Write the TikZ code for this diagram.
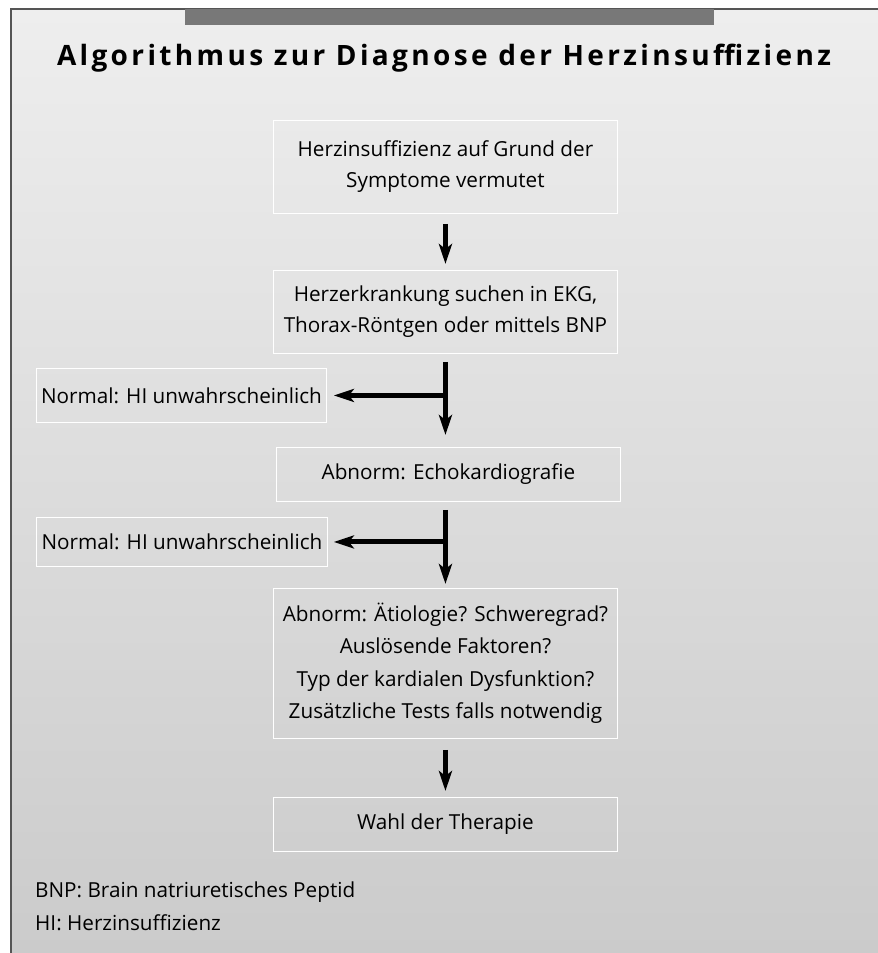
\documentclass[tikz,border=0pt]{standalone}
\usepackage{fontspec}
\setmainfont{Open Sans}
\usetikzlibrary{arrows.meta}
\definecolor{bgtop}{HTML}{EEEEEE}
\definecolor{bgbot}{HTML}{CBCBCB}
\definecolor{barc}{HTML}{787878}
\definecolor{framec}{HTML}{555555}
\tikzset{
  box/.style={draw=white, line width=0.9pt, anchor=north west, inner sep=0pt,
    align=center, font=\fontsize{20.7}{31}\selectfont, text=black},
  arr/.style={line width=5pt, -{Stealth[length=20pt, width=13pt, inset=5pt]}},
  note/.style={anchor=west, inner sep=0pt, font=\fontsize{20.7}{24}\selectfont}
}
\begin{document}
\begin{tikzpicture}[x=1pt,y=1pt]
\useasboundingbox (0,0) rectangle (878,-953);
\fill[white] (0,0) rectangle (878,-953);
\shade[top color=bgtop, bottom color=bgbot] (11,-9) rectangle (878,-953);
\draw[framec, line width=1.2pt] (11,-953) -- (11,-9) -- (878,-9);
\fill[barc] (185,-9) rectangle (714,-25);
\node[font=\fontsize{28}{32}\selectfont\bfseries\addfontfeatures{LetterSpace=12}] (title) at (444,-58) {Algorithmus zur Diagnose der Herzinsuffizienz};

\node[box, minimum width=344pt, minimum height=93pt] (b1) at (273,-120) {Herzinsuffizienz auf Grund der\\Symptome vermutet};
\node[box, minimum width=344pt, minimum height=83pt] (b2) at (273,-270) {Herzerkrankung suchen in EKG,\\Thorax-Röntgen oder mittels BNP};
\node[box, minimum width=290pt, minimum height=54pt] (n1) at (36,-368) {Normal: HI unwahrscheinlich};
\node[box, minimum width=344pt, minimum height=54pt] (b3) at (276,-447) {Abnorm: Echokardiografie};
\node[box, minimum width=291pt, minimum height=49pt] (n2) at (36,-517) {Normal: HI unwahrscheinlich};
\node[box, minimum width=344pt, minimum height=150pt, font=\fontsize{20.7}{32.5}\selectfont] (b4) at (273,-588) {Abnorm: Ätiologie? Schweregrad?\\Auslösende Faktoren?\\Typ der kardialen Dysfunktion?\\Zusätzliche Tests falls notwendig};
\node[box, minimum width=344pt, minimum height=54pt] (b5) at (273,-797) {Wahl der Therapie};

\node[note] (fn1) at (35,-892) {BNP: Brain natriuretisches Peptid};
\node[note] (fn2) at (35,-923) {HI: Herzinsuffizienz};

\coordinate (j1) at (b1.south |- n1.east);
\coordinate (j2) at (b1.south |- n2.east);

\draw[arr, shorten <=10pt, shorten >=6pt] (b1.south) -- (b2.north);
\draw[arr, shorten <=8pt, shorten >=12pt] (b2.south) -- (b2.south |- b3.north);
\draw[arr, shorten >=7pt] (j1) -- (n1.east);
\draw[arr, shorten <=8pt, shorten >=4pt] (b2.south |- b3.south) -- (b2.south |- b4.north);
\draw[arr, shorten >=6pt] (j2) -- (n2.east);
\draw[arr, shorten <=11pt, shorten >=6pt] (b4.south) -- (b5.north);
\end{tikzpicture}
\end{document}
